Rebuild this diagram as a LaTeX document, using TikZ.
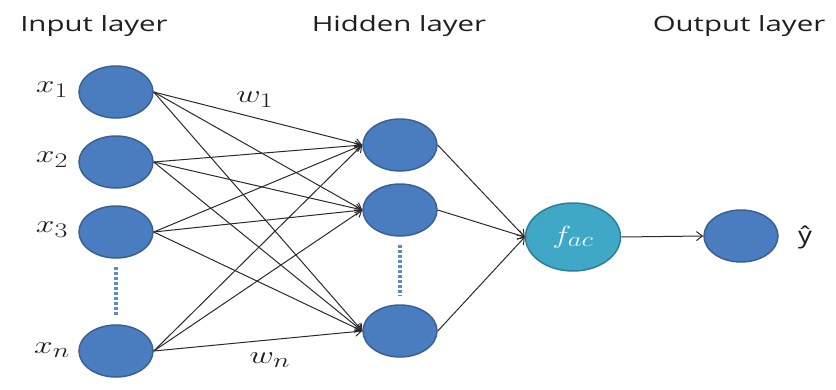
\documentclass[tikz,border=0pt]{standalone}
\usepackage{fontspec}
\setsansfont{Open Sans}
\usetikzlibrary{arrows.meta,shapes.geometric}
\definecolor{nodeblue}{HTML}{4A7DBF}
\definecolor{nodeedge}{HTML}{3A6192}
\definecolor{dotblue}{HTML}{5B8CC8}
\definecolor{facfill}{HTML}{3EA8C6}
\definecolor{facedge}{HTML}{2E7F96}
\definecolor{linkgray}{HTML}{2A2A2A}
\tikzset{
  neuron/.style={ellipse, fill=nodeblue, draw=nodeedge, line width=1.5pt,
    minimum width=74pt, minimum height=52pt, inner sep=0pt},
  facnode/.style={ellipse, fill=facfill, draw=facedge, line width=1.5pt,
    minimum width=95pt, minimum height=68pt, inner sep=0pt, text=white!92!facfill},
  layertitle/.style={font=\sffamily\fontsize{21}{25}\selectfont, text=black!88, inner sep=0pt},
  mathlabel/.style={font=\fontsize{31}{36}\selectfont, text=black!88, inner sep=0pt},
  link/.style={draw=linkgray, line width=1pt, -{Straight Barb[length=6pt,width=9pt]}},
  dotsline/.style={draw=dotblue, line width=4pt, dash pattern=on 3pt off 2pt}
}
\begin{document}
\begin{tikzpicture}[x=1pt,y=-1pt]
\useasboundingbox (0,0) rectangle (836,389);
% titles
\node[layertitle] (tin) at (94,26) {\scalebox{1.4}[1]{Input layer}};
\node[layertitle] (thid) at (399,26) {\scalebox{1.4}[1]{Hidden layer}};
\node[layertitle] (tout) at (739,26) {\scalebox{1.4}[1]{Output layer}};
% input layer
\node[neuron] (x1) at (116,92) {};
\node[neuron] (x2) at (116,162) {};
\node[neuron] (x3) at (116,232) {};
\node[neuron] (xn) at (116,351) {};
% hidden layer
\node[neuron] (h1) at (400,145) {};
\node[neuron] (h2) at (400,210) {};
\node[neuron] (h3) at (400,331) {};
% activation and output
\node[facnode] (fac) at (573,237) {\fontsize{32}{36}\selectfont\scalebox{1.3}[1]{$f_{ac}$}};
\node[neuron] (out) at (741,236) {};
% labels
\node[mathlabel] (lx1) at (52,90) {\scalebox{1.35}[1]{$x_1$}};
\node[mathlabel] (lx2) at (52,160) {\scalebox{1.35}[1]{$x_2$}};
\node[mathlabel] (lx3) at (52,230) {\scalebox{1.35}[1]{$x_3$}};
\node[mathlabel] (lxn) at (52,350) {\scalebox{1.35}[1]{$x_n$}};
\node[mathlabel] (lw1) at (255,100) {\scalebox{1.35}[1]{$w_1$}};
\node[mathlabel] (lwn) at (270,360) {\scalebox{1.35}[1]{$w_n$}};
\node[font=\sffamily\fontsize{23}{27}\selectfont, text=black!90, inner sep=0pt] (yhat) at (805,237) {\scalebox{1.2}[1]{ŷ}};
% dotted separators
\draw[dotsline] ([yshift=-8pt]x3.south) -- ([yshift=8pt]xn.north);
\draw[dotsline] ([yshift=-8pt]h2.south) -- ([yshift=8pt]h3.north);
% connections input -> hidden
\foreach \i in {x1,x2,x3,xn}{
  \foreach \j in {h1,h2,h3}{
    \draw[link] (\i.east) -- (\j.west);
  }
}
% hidden -> fac
\foreach \j in {h1,h2,h3}{
  \draw[link] (\j.east) -- (fac.west);
}
\draw[link] (fac.east) -- (out.west);
\end{tikzpicture}
\end{document}
